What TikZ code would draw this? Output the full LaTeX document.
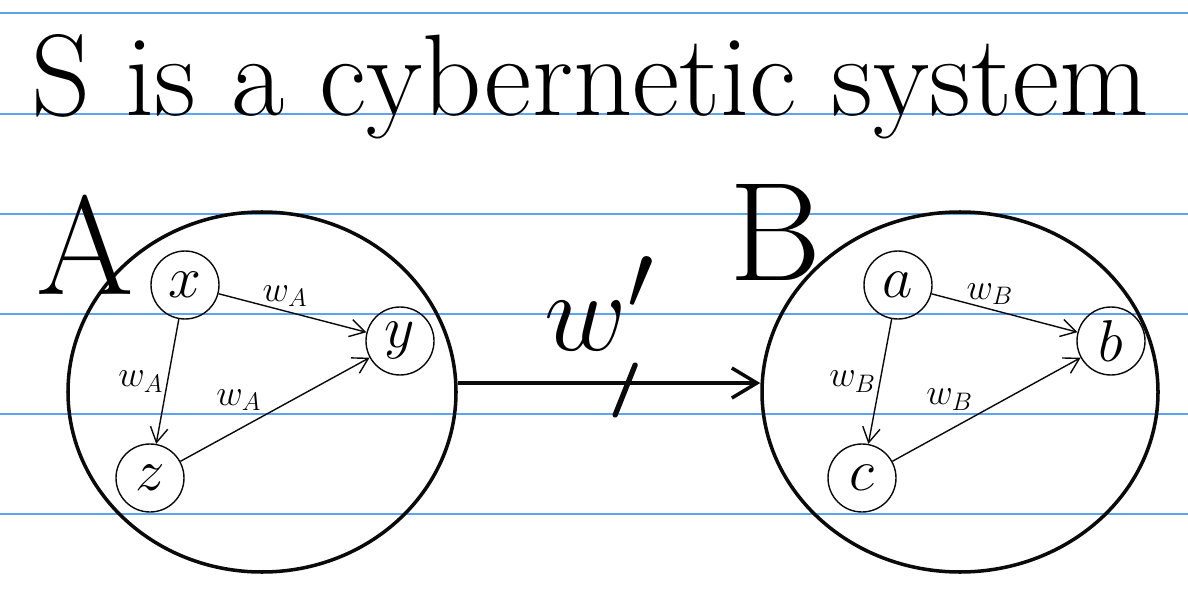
\documentclass[tikz,border=0pt]{standalone}
\usepackage{graphicx}
\usepackage{tikz}
\usetikzlibrary{arrows.meta,positioning,shapes.geometric,calc}
\definecolor{ruleblue}{RGB}{92,164,240}
\definecolor{inkblack}{RGB}{10,10,10}
\newcommand{\statelbl}[1]{\scalebox{1.35}{$#1$}}
\tikzset{
  rule/.style    ={draw=ruleblue, line width=1.6pt},
  sysring/.style ={ellipse, draw=inkblack, line width=2pt, inner sep=0pt},
  state/.style   ={circle, draw=inkblack, line width=0.8pt, minimum size=1.36cm,
                   inner sep=0pt, font=\Huge},
  link/.style    ={-{Straight Barb[length=3mm,width=3.5mm]}, line width=0.8pt, draw=inkblack},
  wlbl/.style    ={font=\huge, inner sep=2pt},
  bigflow/.style ={-{Straight Barb[length=5mm,width=6mm]}, line width=2pt, draw=inkblack},
  cut/.style     ={line width=3pt, line cap=round, draw=inkblack}
}

\begin{document}
\begin{tikzpicture}
  \useasboundingbox (0,0) rectangle (23.76,12.26);
  % ruled paper
  \foreach \y in {12.0,9.98,7.98,5.98,3.98,1.98}
    \draw[rule] (0,\y) -- (23.76,\y);

  \node[anchor=base, font=\fontsize{66}{70}\selectfont] (title) at (11.8,9.95) {S is a cybernetic system};

  % system A
  \node[sysring, minimum width=7.76cm, minimum height=7.2cm] (sysA) at (5.24,4.42) {};
  \node[font=\fontsize{80}{80}\selectfont] (labA) at (1.7,7.36) {A};
  \node[state] (x) at (3.70,6.56) {\statelbl{x}};
  \node[state] (y) at (8.00,5.44) {\statelbl{y}};
  \node[state] (z) at (3.00,2.70) {\statelbl{z}};
  \draw[link] (x) -- node[wlbl, above, pos=0.45] {$w_A$} (y);
  \draw[link] (x) -- node[wlbl, left] {$w_A$} (z);
  \draw[link] (z) -- node[wlbl, above left, pos=0.45] {$w_A$} (y);

  % system B
  \node[sysring, minimum width=7.92cm, minimum height=7.2cm] (sysB) at (19.2,4.42) {};
  \node[font=\fontsize{80}{80}\selectfont] (labB) at (15.5,7.62) {B};
  \node[state] (a) at (17.96,6.56) {\statelbl{a}};
  \node[state] (b) at (22.22,5.44) {\statelbl{b}};
  \node[state] (c) at (17.24,2.70) {\statelbl{c}};
  \draw[link] (a) -- node[wlbl, above, pos=0.4] {$w_B$} (b);
  \draw[link] (a) -- node[wlbl, left] {$w_B$} (c);
  \draw[link] (c) -- node[wlbl, above left, pos=0.45] {$w_B$} (b);

  % coupling A -> B
  \draw[bigflow] ([yshift=0.18cm]sysA.east) --
    coordinate[pos=0.55] (cutpt)
    node[above=14pt, pos=0.47] (wlink) {\scalebox{2.6}{\Huge$w'$}}
    ([yshift=0.18cm]sysB.west);
  \draw[cut] ($(cutpt)+(-0.18,-0.64)$) -- ($(cutpt)+(0.22,0.36)$);
\end{tikzpicture}
\end{document}
